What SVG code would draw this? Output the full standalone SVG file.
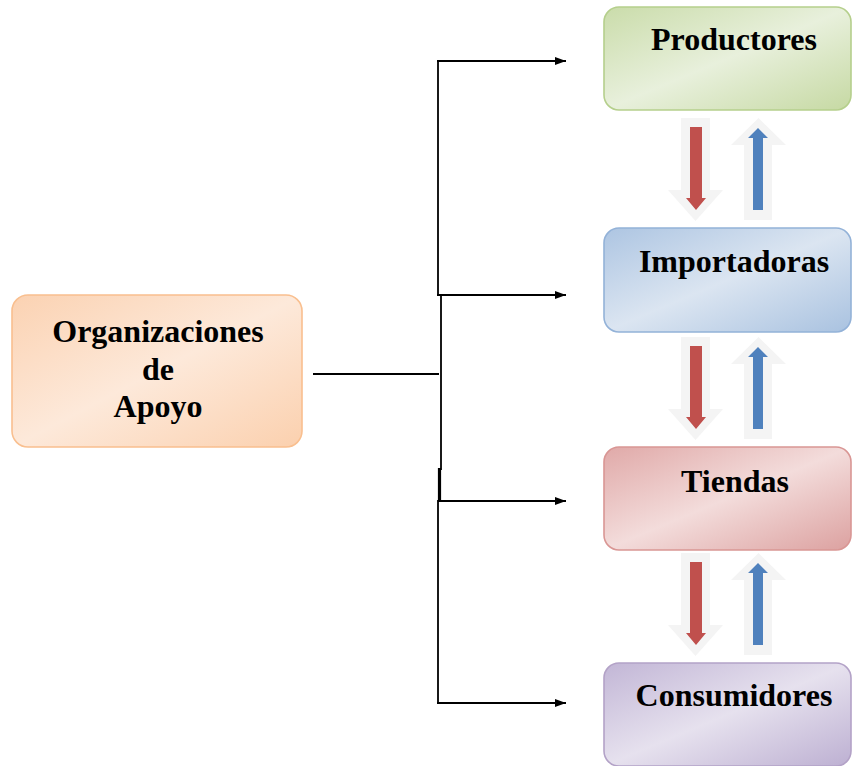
<svg xmlns="http://www.w3.org/2000/svg" width="853" height="766" viewBox="0 0 853 766">
<defs>
<linearGradient id="gGreen" x1="0" y1="0" x2="1" y2="1">
<stop offset="0" stop-color="#cadcaa"/><stop offset="0.5" stop-color="#e8f0dc"/><stop offset="1" stop-color="#c6d9a3"/>
</linearGradient>
<linearGradient id="gBlue" x1="0" y1="0" x2="1" y2="1">
<stop offset="0" stop-color="#adc5e2"/><stop offset="0.5" stop-color="#dbe5f1"/><stop offset="1" stop-color="#a9c2e0"/>
</linearGradient>
<linearGradient id="gRed" x1="0" y1="0" x2="1" y2="1">
<stop offset="0" stop-color="#e0a9a8"/><stop offset="0.5" stop-color="#f3dcdb"/><stop offset="1" stop-color="#dca1a0"/>
</linearGradient>
<linearGradient id="gPurple" x1="0" y1="0" x2="1" y2="1">
<stop offset="0" stop-color="#c2b6d6"/><stop offset="0.5" stop-color="#e6e1ee"/><stop offset="1" stop-color="#bdb0d2"/>
</linearGradient>
<linearGradient id="gOrange" x1="0" y1="0" x2="1" y2="1">
<stop offset="0" stop-color="#fbd2b2"/><stop offset="0.5" stop-color="#fde9da"/><stop offset="1" stop-color="#fbd0ae"/>
</linearGradient>
<marker id="arr" viewBox="0 0 11 8" refX="11" refY="4" markerWidth="11" markerHeight="8" markerUnits="userSpaceOnUse" orient="auto">
<path d="M0,0 L11,4 L0,8 Z" fill="#000"/>
</marker>
<g id="pair">
<path d="M681,0 H710 V72 H723 L695.5,103 L668,72 H681 Z" fill="#f4f4f4"/>
<path d="M690,9 H702 V80 H706 L696,92 L686,80 H690 Z" fill="#c0504d"/>
<path d="M758.5,0 L786,27 H772 V102 H744 V27 H731 Z" fill="#f4f4f4"/>
<path d="M758,10 L768,20 H763 V92 H753 V20 H748 Z" fill="#4f81bd"/>
</g>
</defs>
<style>
.box{stroke-width:1.6}
.lbl{font-family:"Liberation Serif","Times New Roman",serif;font-weight:bold;font-size:32px;fill:#000;text-anchor:middle}
.con{stroke:#000;stroke-width:1.8;fill:none}
</style>
<g id="connectors">
<line class="con" x1="313" y1="374" x2="439" y2="374"/>
<line class="con" x1="438" y1="61" x2="438" y2="296"/>
<line class="con" x1="441" y1="294" x2="441" y2="470"/>
<line class="con" x1="439.5" y1="468" x2="439.5" y2="502" style="stroke-width:3.2"/>
<line class="con" x1="438" y1="500" x2="438" y2="704"/>
<line class="con" x1="437" y1="61" x2="566" y2="61" marker-end="url(#arr)"/>
<line class="con" x1="437" y1="295" x2="566" y2="295" marker-end="url(#arr)"/>
<line class="con" x1="438" y1="501" x2="566" y2="501" marker-end="url(#arr)"/>
<line class="con" x1="437" y1="703" x2="566" y2="703" marker-end="url(#arr)"/>
</g>
<g id="flow-arrows">
<use href="#pair" transform="translate(0,118)"/>
<use href="#pair" transform="translate(0,337)"/>
<use href="#pair" transform="translate(0,553)"/>
</g>
<g id="organizaciones">
<rect class="box" x="12" y="295" width="290" height="152" rx="16" fill="url(#gOrange)" stroke="#f9bf8f"/>
<text class="lbl" x="158" y="342">Organizaciones</text>
<text class="lbl" x="158" y="380">de</text>
<text class="lbl" x="158" y="417">Apoyo</text>
</g>
<g id="productores">
<rect class="box" x="604" y="7" width="247" height="103" rx="15" fill="url(#gGreen)" stroke="#b5cf8c"/>
<text class="lbl" x="734" y="50">Productores</text>
</g>
<g id="importadoras">
<rect class="box" x="604" y="228" width="247" height="104" rx="15" fill="url(#gBlue)" stroke="#93b2d8"/>
<text class="lbl" x="734" y="272">Importadoras</text>
</g>
<g id="tiendas">
<rect class="box" x="604" y="447" width="247" height="103" rx="15" fill="url(#gRed)" stroke="#d99694"/>
<text class="lbl" x="735" y="492">Tiendas</text>
</g>
<g id="consumidores">
<rect class="box" x="604" y="663" width="247" height="103" rx="15" fill="url(#gPurple)" stroke="#b3a2c7"/>
<text class="lbl" x="734" y="706">Consumidores</text>
</g>
</svg>
